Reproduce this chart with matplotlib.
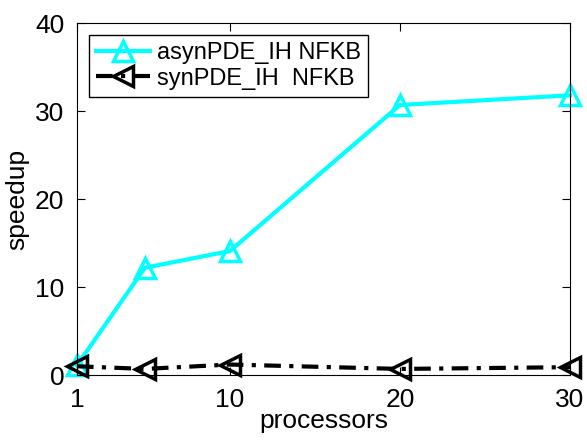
import matplotlib
matplotlib.use('Agg')
import matplotlib.pyplot as plt

plt.rcParams['font.family'] = ['Liberation Sans', 'DejaVu Sans']

procs = [1, 5, 10, 20, 30]
asyn_speedup = [1.1, 12.2, 14.1, 30.7, 31.8]
syn_speedup = [1.0, 0.7, 1.2, 0.7, 0.9]
xticks = [1, 10, 20, 30]
yticks = [0, 10, 20, 30, 40]

fig = plt.figure(figsize=(5.87, 4.46), dpi=100)
ax = fig.add_axes([0.131, 0.159, 0.84, 0.789])

ax.plot(procs, asyn_speedup, '-', color='cyan', lw=3, marker='^', ms=15,
        mfc='none', mec='cyan', mew=2.5, label='asynPDE_IH NFKB', clip_on=False)
ax.plot(procs, syn_speedup, color='black', lw=3, marker='<', ms=15,
        mfc='none', mec='black', mew=2.5, label='synPDE_IH  NFKB', clip_on=False,
        dashes=(4, 2, 1, 2))

ax.set_xlim(1, 30)
ax.set_ylim(0, 40)
ax.set_xticks(xticks)
ax.set_yticks(yticks)
ax.tick_params(direction='in', length=6, labelsize=19, top=True, right=True, pad=9)
ax.set_xlabel('processors', fontsize=19, labelpad=-2)
ax.set_ylabel('speedup', fontsize=19, labelpad=4)

leg = ax.legend(loc='upper left', fontsize=17, fancybox=False, edgecolor='black',
                framealpha=1, handlelength=2.3, borderpad=0.3, labelspacing=0.15,
                handletextpad=0.3, borderaxespad=0.5)
leg.get_frame().set_linewidth(1)

fig.savefig('out.png', dpi=100)
